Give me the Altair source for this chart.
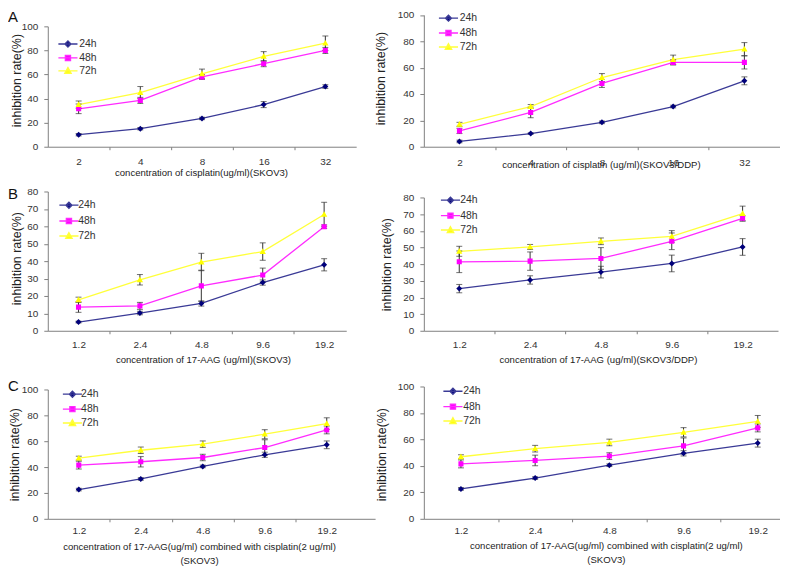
import altair as alt
import pandas as pd

SERIES = ["24h", "48h", "72h"]
LINE_COLORS = ["#3a3a96", "#ff2bff", "#ffff3a"]
MARK_COLORS = ["#00007a", "#ff00ff", "#ffff00"]

LAB_CIS = ["2", "4", "8", "16", "32"]
LAB_AAG = ["1.2", "2.4", "4.8", "9.6", "19.2"]

# Panel A left (SKOV3, cisplatin)
A1_V = {"24h": [10, 15, 23.5, 35, 50], "48h": [31.5, 38.5, 58, 69, 80], "72h": [35, 45, 60.5, 75, 86]}
A1_E = {"24h": [1, 1, 1, 2.5, 1.5], "48h": [4, 2.5, 2, 2.5, 2.5], "72h": [3, 5, 4, 4, 6]}
# Panel A right (SKOV3/DDP, cisplatin)
A2_V = {"24h": [4, 10, 18.5, 30.5, 50], "48h": [12, 26, 48, 64, 64], "72h": [17, 30.5, 52.5, 66, 74]}
A2_E = {"24h": [1, 0.5, 1, 1, 3], "48h": [2, 4, 3, 2, 5], "72h": [1.5, 1.5, 3, 3.5, 5]}
# Panel B left (SKOV3, 17-AAG)
B1_V = {"24h": [5, 10.2, 15.7, 27.7, 37.9], "48h": [13.6, 14.3, 25.8, 32, 59.8], "72h": [17.8, 29.3, 39.5, 45.5, 66.8]}
B1_E = {"24h": [0.5, 1, 1.5, 1.5, 3.5], "48h": [3, 2, 9, 4, 1], "72h": [1.5, 3, 5, 5, 7]}
# Panel B right (SKOV3/DDP, 17-AAG)
B2_V = {"24h": [25.3, 30.5, 35.2, 40.4, 50.3], "48h": [41.4, 41.8, 43.4, 53.7, 67.5], "72h": [47.7, 50.3, 53.7, 56.6, 70.3]}
B2_E = {"24h": [2.5, 2.5, 3.5, 5, 5], "48h": [6.5, 5.5, 6.5, 5, 1.5], "72h": [3, 1.5, 2, 3.5, 4.5]}
# Panel C (combined), both sides
C_V = {"24h": [22.6, 30.8, 40.5, 49.5, 57.2], "48h": [41.5, 44.1, 47.4, 55.1, 68.7], "72h": [46.9, 53, 57.7, 65.4, 73.6]}
C_E = {"24h": [1, 1, 1, 2, 3], "48h": [3, 4, 2.5, 6, 3], "72h": [1.5, 2.5, 2.5, 3.5, 4.5]}

Y_TITLE = "inhibition rate(%)"
C_TITLE = ["concentration of 17-AAG(ug/ml) combined with cisplatin(2 ug/ml)", "(SKOV3)"]
FONT = "Liberation Sans, Arial"

SHAPES = [
    "M-3.2,-0.01H3.2M0,-1L1,0L0,1L-1,0Z",
    "M-3.2,-0.01H3.2M-0.85,-0.85H0.85V0.85H-0.85Z",
    "M-3.2,-0.01H3.2M0,-1.1L1.05,0.8H-1.05Z",
]

W_LEFT, W_RIGHT = 378, 358
ROW_H = [138, 185, 189]


def frame(vals, errs):
    rows = []
    for s in SERIES:
        for i, (v, e) in enumerate(zip(vals[s], errs[s])):
            rows.append({"idx": i, "series": s, "value": v, "lo": v - e, "hi": v + e})
    return pd.DataFrame(rows)


def panel(vals, errs, labels, cell_w, cell_h, xr, xmax, ytop, ymax, ystep,
          xtitle, xtX, xtY, xtBase, ytX, ytY, labPadX,
          legX, legY, legRow, legOff, letter=None, letterY=0):
    df = frame(vals, errs)
    lab_js = "[" + ",".join("'%s'" % l for l in labels) + "]"
    xaxis = alt.Axis(
        values=[0, 1, 2, 3, 4, 0.5, 1.5, 2.5, 3.5],
        labelExpr="datum.value %% 1 === 0 ? %s[datum.value] : ''" % lab_js,
        tickOpacity={"condition": {"test": "datum.value % 1 === 0", "value": 0}, "value": 1},
        tickSize=3, tickColor="#808080", domainColor="#808080", grid=False,
        labelFont=FONT, labelFontSize=10, labelColor="#333", labelPadding=labPadX,
        labelOverlap=False, labelFlush=False, labelBound=False,
        title=xtitle, titleFont=FONT, titleFontSize=9.6, titleFontWeight="normal",
        titleColor="#222", titleX=xtX, titleY=xtY, titleBaseline=xtBase, titleAlign="center",
        titleLineHeight=14,
    )
    yaxis = alt.Axis(
        values=list(range(0, ymax + 1, ystep)), grid=False,
        tickSize=4, tickColor="#808080", domainColor="#808080",
        labelFont=FONT, labelFontSize=10, labelColor="#333", labelPadding=6,
        title=Y_TITLE, titleFont=FONT, titleFontSize=12.5, titleFontWeight="normal",
        titleColor="#222", titleX=ytX, titleY=ytY, titleAlign="center", titleBaseline="middle",
    )
    xs = alt.Scale(domain=[-0.5, xmax], range=[0, xr], nice=False, zero=False)
    ys = alt.Scale(domain=[0, ymax], range=[cell_h, ytop], nice=False)
    X = alt.X("idx:Q", scale=xs, axis=xaxis)
    leg = alt.Legend(
        title=None, orient="none", legendX=legX, legendY=legY, symbolSize=36,
        symbolStrokeWidth=1.4, labelFont=FONT, labelFontSize=10.5, labelColor="#333",
        labelOffset=legOff, rowPadding=legRow, padding=0, symbolOpacity=1,
    )
    stroke = alt.Stroke("series:N", scale=alt.Scale(domain=SERIES, range=LINE_COLORS), legend=leg)
    fill = alt.Fill("series:N", scale=alt.Scale(domain=SERIES, range=MARK_COLORS), legend=leg)
    shape = alt.Shape("series:N", scale=alt.Scale(domain=SERIES, range=SHAPES), legend=leg)

    base = alt.Chart(df)
    lines = base.mark_line(strokeWidth=1.3).encode(
        x=X, y=alt.Y("value:Q", scale=ys, axis=yaxis), stroke=stroke, order="idx:Q")
    bars = base.mark_rule(color="#333", strokeWidth=1).encode(
        x=X, y=alt.Y("lo:Q", scale=ys, axis=yaxis), y2="hi:Q")
    cap_lo = base.mark_tick(orient="horizontal", size=6, thickness=1, color="#333").encode(
        x=X, y=alt.Y("lo:Q", scale=ys, axis=yaxis))
    cap_hi = base.mark_tick(orient="horizontal", size=6, thickness=1, color="#333").encode(
        x=X, y=alt.Y("hi:Q", scale=ys, axis=yaxis))
    pts = base.mark_point(filled=True, size=36, opacity=1).encode(
        x=X, y=alt.Y("value:Q", scale=ys, axis=yaxis), fill=fill, stroke=stroke, shape=shape,
        strokeWidth=alt.value(0))
    layers = [lines, bars, cap_lo, cap_hi, pts]
    if letter:
        lt = alt.Chart(pd.DataFrame({"letter": [letter]})).mark_text(
            align="left", baseline="middle", fontSize=15, font=FONT, color="#111").encode(
            text="letter:N", x=alt.value(-40), y=alt.value(letterY))
        layers.append(lt)
    return alt.layer(*layers).properties(width=cell_w, height=cell_h)


a1 = panel(A1_V, A1_E, LAB_CIS, W_LEFT, ROW_H[0], 310, 4.5, 17, 100, 20,
           "concentration of cisplatin(ug/ml)(SKOV3)", 154, 26, "middle", -31, 71, 7,
           15, 29.5, 1, 6, letter="A", letterY=7.5)
a2 = panel(A2_V, A2_E, LAB_CIS, W_RIGHT, ROW_H[0], 358, 4.5, 5.5, 100, 20,
           "concentration of cisplatin (ug/ml)(SKOV3/DDP)", 178, 18, "middle", -44, 69, 8,
           19.5, 3.5, 2, 6)
b1 = panel(B1_V, B1_E, LAB_AAG, W_LEFT, ROW_H[1], 300, 4.36, 45, 80, 10,
           "concentration of 17-AAG (ug/ml)(SKOV3)", 156, 29, "middle", -31, 112, 6,
           16, 53.5, 3, 4, letter="B", letterY=48)
b2 = panel(B2_V, B2_E, LAB_AAG, W_RIGHT, ROW_H[1], 356, 4.5, 51, 80, 10,
           "concentration of 17-AAG (ug/ml)(SKOV3/DDP)", 175, 29, "middle", -38, 118, 6,
           21.5, 48.5, 2.5, 4.5)
c1 = panel(C_V, C_E, LAB_AAG, W_LEFT, ROW_H[2], 329, 4.78, 59, 100, 20,
           C_TITLE, 152, 22.5, "top", -33, 124, 4,
           19.5, 58.5, 2, 3.5, letter="C", letterY=56)
c2 = panel(C_V, C_E, LAB_AAG, W_RIGHT, ROW_H[2], 358, 4.3, 56, 100, 20,
           C_TITLE, 183, 21.5, "top", -43, 124, 4,
           24, 55.5, 2.5, 5)

chart = alt.concat(a1, a2, b1, b2, c1, c2, columns=2, spacing=0, bounds="flush", align="each")
chart = chart.resolve_scale(
    x="independent", y="independent", fill="independent", stroke="independent", shape="independent"
).resolve_legend(fill="independent", stroke="independent", shape="independent")
chart = chart.properties(padding=0).configure_view(stroke=None)

chart.save("out.html", embed_options={"renderer": "svg", "actions": False})
